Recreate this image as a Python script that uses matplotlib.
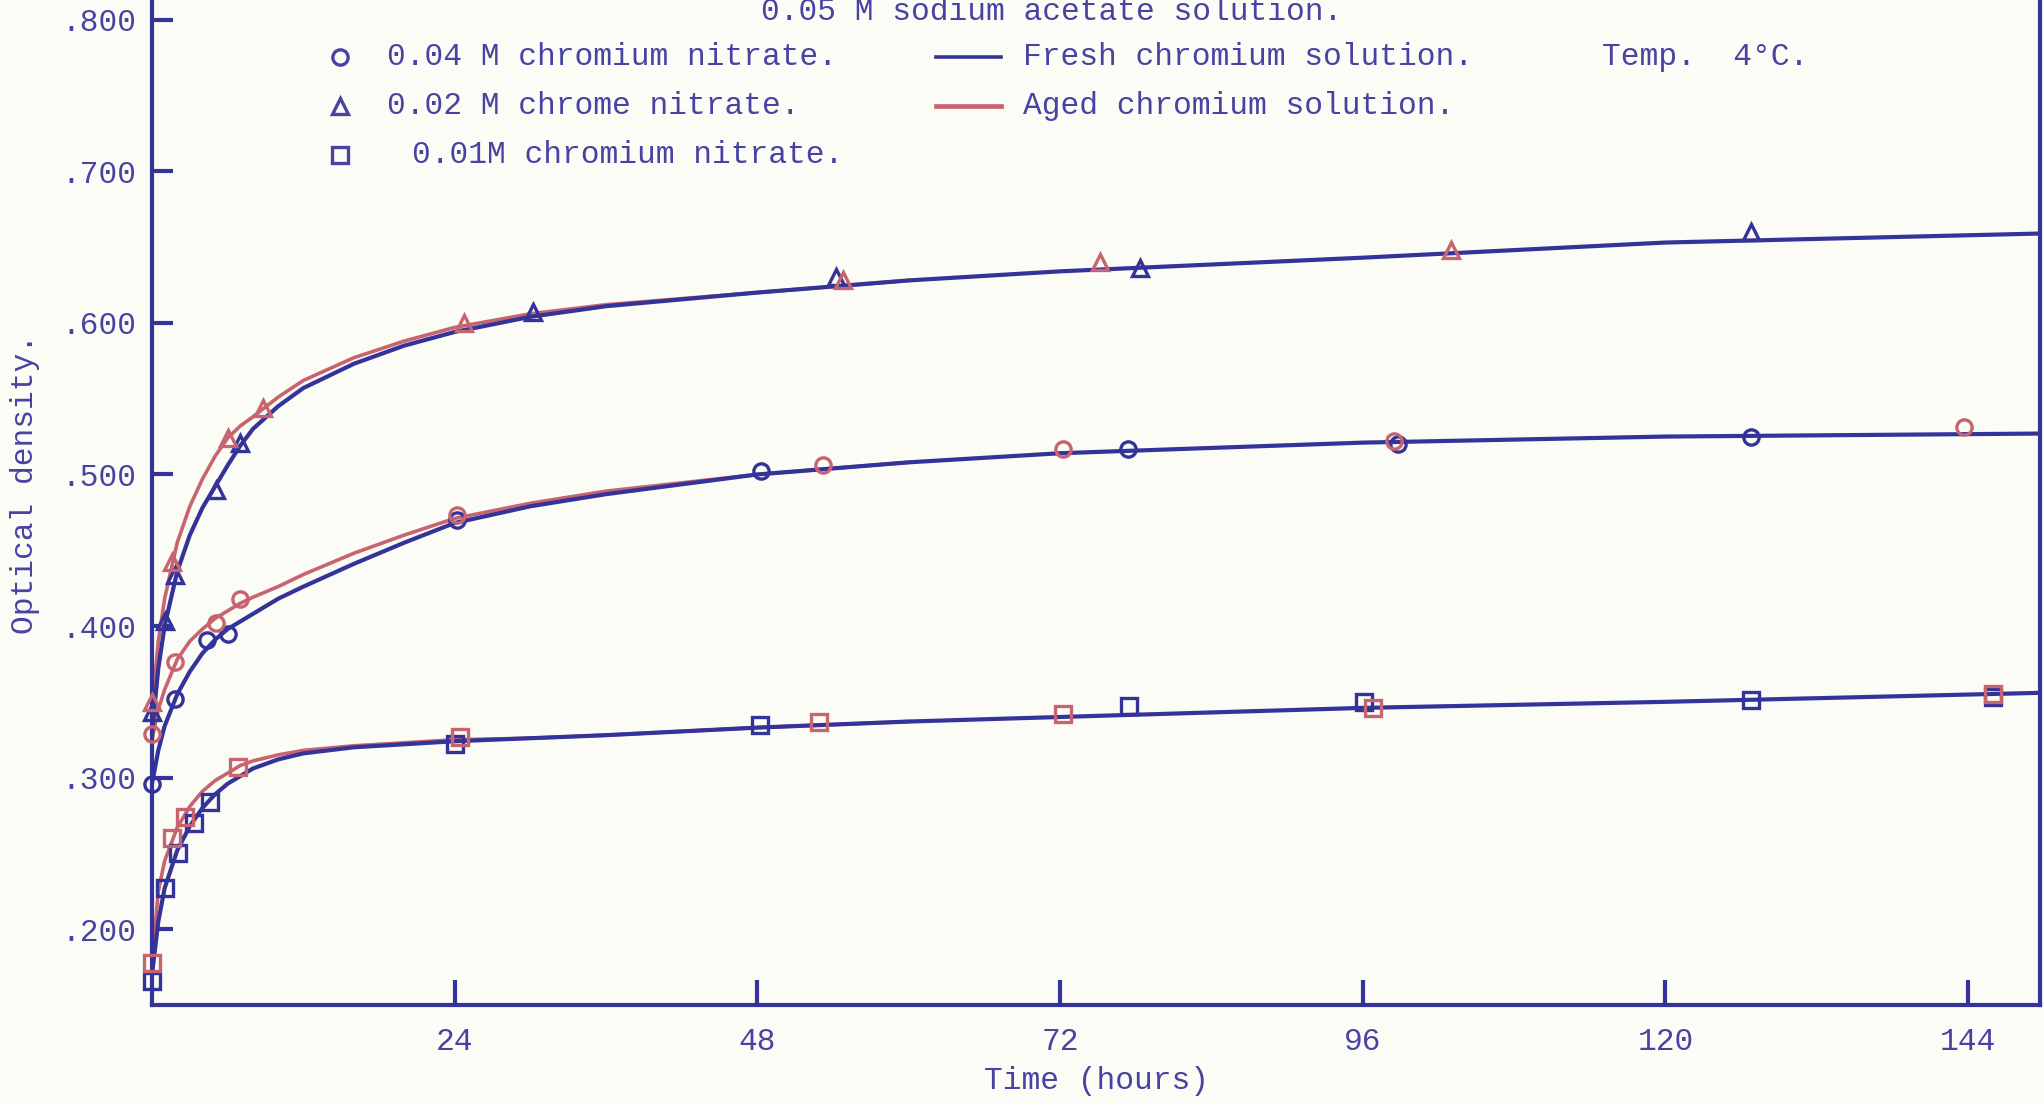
import numpy as np
import matplotlib
matplotlib.use("Agg")
import matplotlib.pyplot as plt
from matplotlib.lines import Line2D

# readings, 0.04 M chromium nitrate (circles)
t_circ_fresh = [0, 1.8, 4.4, 6.0, 24.2, 48.3, 77.4, 98.8, 126.8]
od_circ_fresh = [0.296, 0.352, 0.391, 0.395, 0.470, 0.502, 0.517, 0.520, 0.525]
t_circ_aged = [0, 1.8, 5.1, 7.0, 24.2, 53.2, 72.2, 98.5, 143.7]
od_circ_aged = [0.329, 0.376, 0.402, 0.418, 0.473, 0.506, 0.517, 0.522, 0.531]

# readings, 0.02 M chrome nitrate (triangles)
t_tri_fresh = [0, 1.0, 1.8, 5.1, 7.0, 30.2, 54.2, 78.3, 126.8]
od_tri_fresh = [0.343, 0.403, 0.434, 0.490, 0.521, 0.607, 0.630, 0.636, 0.660]
t_tri_aged = [0, 1.6, 6.0, 8.8, 24.7, 54.8, 75.2, 103.0]
od_tri_aged = [0.350, 0.442, 0.524, 0.544, 0.600, 0.628, 0.640, 0.648]

# readings, 0.01 M chromium nitrate (squares)
t_sq_fresh = [0, 1.0, 2.1, 3.3, 4.6, 24.0, 48.2, 77.5, 96.1, 126.8, 146.0]
od_sq_fresh = [0.166, 0.227, 0.250, 0.270, 0.284, 0.322, 0.335, 0.347, 0.350, 0.351, 0.353]
t_sq_aged = [0, 1.6, 2.6, 6.8, 24.4, 52.9, 72.2, 96.8, 146.0]
od_sq_aged = [0.178, 0.260, 0.274, 0.307, 0.327, 0.337, 0.342, 0.346, 0.355]

# hand drawn curves
t_fresh_curve = [0, 0.5, 1, 2, 3, 4, 5, 6, 7, 8, 10, 12, 16, 20, 24, 30, 36, 48, 60, 72, 96, 120, 150]
tri_fresh_curve = [0.330, 0.372, 0.400, 0.436, 0.460, 0.478, 0.492, 0.506, 0.519, 0.530, 0.545, 0.557,
                   0.573, 0.585, 0.594, 0.604, 0.611, 0.620, 0.628, 0.634, 0.643, 0.653, 0.659]
circ_fresh_curve = [0.296, 0.318, 0.334, 0.355, 0.370, 0.382, 0.391, 0.398, 0.403, 0.408, 0.418, 0.426,
                    0.441, 0.455, 0.468, 0.479, 0.487, 0.500, 0.508, 0.514, 0.521, 0.525, 0.527]
sq_fresh_curve = [0.170, 0.205, 0.227, 0.252, 0.268, 0.280, 0.289, 0.296, 0.301, 0.306, 0.312, 0.316,
                  0.320, 0.322, 0.324, 0.326, 0.328, 0.333, 0.337, 0.340, 0.346, 0.350, 0.356]

t_aged_curve = [0, 0.5, 1, 2, 3, 4, 5, 6, 7, 8, 10, 12, 16, 20, 24, 30, 36, 48, 60]
tri_aged_curve = [0.345, 0.390, 0.418, 0.455, 0.479, 0.497, 0.512, 0.524, 0.532, 0.538, 0.551, 0.562,
                  0.577, 0.588, 0.597, 0.606, 0.612, 0.620, 0.628]
circ_aged_curve = [0.325, 0.345, 0.358, 0.378, 0.390, 0.398, 0.405, 0.410, 0.415, 0.419, 0.426, 0.434,
                   0.448, 0.460, 0.471, 0.481, 0.489, 0.500, 0.508]
sq_aged_curve = [0.178, 0.225, 0.245, 0.267, 0.281, 0.291, 0.298, 0.303, 0.308, 0.311, 0.315, 0.318,
                 0.321, 0.323, 0.325, 0.326, 0.328, 0.333, 0.337]

x_ticks = [24, 48, 72, 96, 120, 144]
y_ticks = [0.2, 0.3, 0.4, 0.5, 0.6, 0.7, 0.8]
y_ticklabels = [".200", ".300", ".400", ".500", ".600", ".700", ".800"]

ink = "#34339a"
txt = "#4843a3"
red = "#c8646f"
paper = "#fcfcf6"
fs = 22.5

plt.rcParams["font.family"] = ["Liberation Mono", "DejaVu Sans Mono"]

fig = plt.figure(figsize=(20.44, 11.03), dpi=100, facecolor=paper)
ax = fig.add_axes([152/2044, 98/1103, 1888/2044, 1005/1103])
ax.set_facecolor(paper)

# aged (red) curves underneath, fresh (blue) on top
for c in [tri_aged_curve, circ_aged_curve, sq_aged_curve]:
    ax.plot(t_aged_curve, c, color=red, lw=2.6, zorder=2)
for c in [tri_fresh_curve, circ_fresh_curve, sq_fresh_curve]:
    ax.plot(t_fresh_curve, c, color=ink, lw=3.0, zorder=3)

mk = dict(ls="none", ms=11, mew=2.4, fillstyle="none", zorder=4, clip_on=False)
ax.plot(t_circ_fresh, od_circ_fresh, marker="o", color=ink, **mk)
ax.plot(t_circ_aged, od_circ_aged, marker="o", color=red, **mk)
ax.plot(t_tri_fresh, od_tri_fresh, marker="^", color=ink, **mk)
ax.plot(t_tri_aged, od_tri_aged, marker="^", color=red, **mk)
ax.plot(t_sq_fresh, od_sq_fresh, marker="s", color=ink, **mk)
ax.plot(t_sq_aged, od_sq_aged, marker="s", color=red, **mk)

ax.set_xlim(0, 149.7)
ax.set_ylim(0.15, 0.813)
ax.set_xticks(x_ticks)
ax.set_yticks(y_ticks)
ax.set_yticklabels(y_ticklabels)
ax.tick_params(axis="x", direction="in", length=18, width=3, color=ink, labelcolor=txt,
               labelsize=fs, pad=16)
ax.tick_params(axis="y", direction="in", length=15, width=3, color=ink, labelcolor=txt,
               labelsize=fs, pad=11)
for s in ["left", "bottom", "right"]:
    ax.spines[s].set_color(ink)
    ax.spines[s].set_linewidth(3)
ax.spines["top"].set_visible(False)

ax.set_xlabel("Time (hours)", fontsize=fs, color=txt, labelpad=6)
ax.set_ylabel("Optical density.", fontsize=fs, color=txt)
ax.yaxis.set_label_coords(-0.0593, 0.518)

# title at the very top of the sheet
fig.text(1052/2044, 1 - 12/1103, "0.05 M sodium acetate solution.", ha="center", va="center",
         fontsize=fs, color=txt)

# typed key
def fx(px):
    return px / 2044

def fy(py):
    return 1 - py / 1103

key_rows = [("o", "0.04 M chromium nitrate.", 57, 387),
            ("^", "0.02 M chrome nitrate.", 106, 387),
            ("s", "0.01M chromium nitrate.", 155, 412)]
for m, label, py, tx in key_rows:
    fig.add_artist(Line2D([fx(340)], [fy(py)], marker=m, ms=11, mew=2.4, fillstyle="none",
                          color=txt, ls="none"))
    fig.text(fx(tx), fy(py), label, fontsize=fs, color=txt, va="center")

fig.add_artist(Line2D([fx(936), fx(1001)], [fy(57), fy(57)], color=ink, lw=2.6))
fig.text(fx(1023), fy(57), "Fresh chromium solution.", fontsize=fs, color=txt, va="center")
fig.add_artist(Line2D([fx(936), fx(1001)], [fy(106), fy(106)], color=red, lw=3.4))
fig.text(fx(1023), fy(106), "Aged chromium solution.", fontsize=fs, color=txt, va="center")
fig.text(fx(1602), fy(57), "Temp.  4\u00b0C.", fontsize=fs, color=txt, va="center")

fig.savefig("out.png", dpi=100, facecolor=paper)
